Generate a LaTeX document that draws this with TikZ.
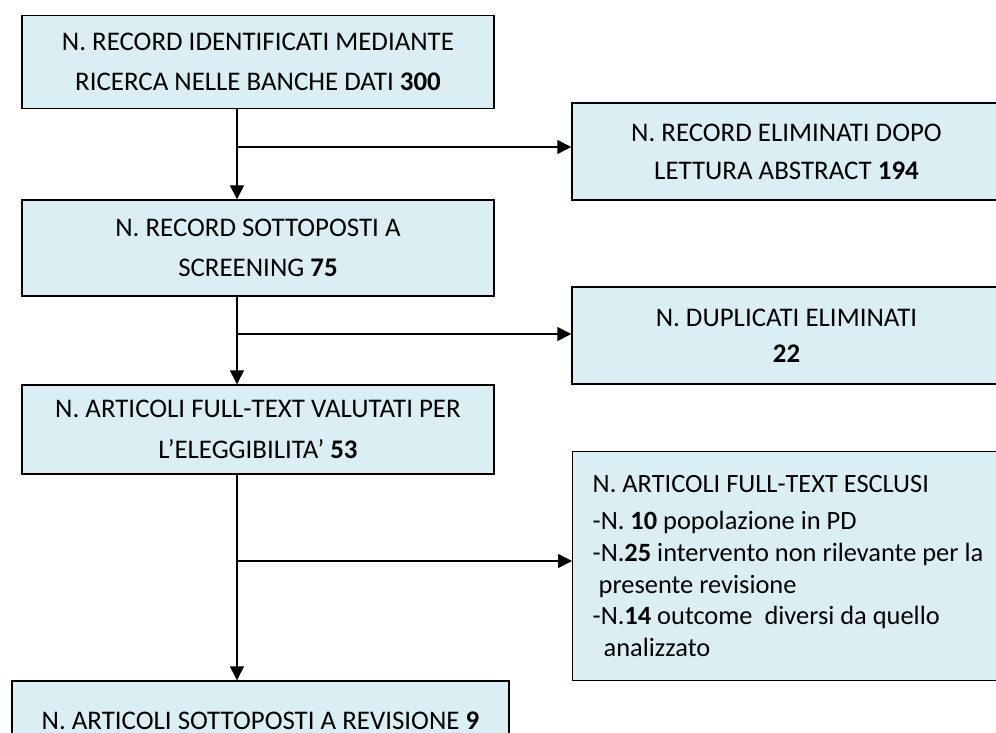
\documentclass[tikz,border=0pt]{standalone}
\usepackage{fontspec}
\setmainfont{Carlito}
\usetikzlibrary{arrows.meta}
\definecolor{boxfill}{RGB}{218,238,243}
\begin{document}
\begin{tikzpicture}[x=1bp,y=-1bp,
  box/.style={draw=black, line width=1.4bp, fill=boxfill, inner sep=0pt,
    font=\fontsize{27}{40.5}\selectfont, align=center},
  conn/.style={line width=1.4bp, -{Triangle[length=14bp,width=14bp]}},
  plain/.style={line width=1.4bp}]
\useasboundingbox (0,0) rectangle (996,733);
\clip (0,0) rectangle (996,733);
% main column
\node[box, minimum width=472bp, minimum height=93bp] (b1) at (258,62)
  {N. RECORD IDENTIFICATI MEDIANTE\\RICERCA NELLE BANCHE DATI \textbf{300}};
\node[box, minimum width=472bp, minimum height=96bp] (b2) at (258,248)
  {N. RECORD SOTTOPOSTI A\\SCREENING \textbf{75}};
\node[box, minimum width=472bp, minimum height=89bp] (b3) at (258,429.5)
  {N. ARTICOLI FULL-TEXT VALUTATI PER\\L’ELEGGIBILITA’ \textbf{53}};
\node[box, minimum width=497bp, minimum height=80bp] (b4) at (260.5,721)
  {N. ARTICOLI SOTTOPOSTI A REVISIONE \textbf{9}};
% side boxes
\node[box, font=\fontsize{27}{38}\selectfont, minimum width=429bp, minimum height=97bp] (r1) at (786.5,151.5)
  {N. RECORD ELIMINATI DOPO\\LETTURA ABSTRACT \textbf{194}};
\node[box, font=\fontsize{27}{36}\selectfont, minimum width=429bp, minimum height=97bp] (r2) at (786.5,335.5)
  {N. DUPLICATI ELIMINATI\\\textbf{22}};
\node[box, font=\fontsize{26.5}{32}\selectfont, align=flush left, text width=410bp, inner xsep=20bp,
  minimum height=229bp, anchor=north west] (r3) at (572,451)
  {N. ARTICOLI FULL-TEXT ESCLUSI\\[5bp]
   -N. \textbf{10} popolazione in PD\\
   -N.\textbf{25} intervento non rilevante per la\\
   \hspace*{6bp}presente revisione\\
   -N.\textbf{14} outcome\ \ diversi da quello\\
   \hspace*{11bp}analizzato};
% connectors
\coordinate (s1) at (237,147);
\coordinate (s2) at (237,334);
\coordinate (s3) at (237,561);
\draw[conn] (b1.south -| s1) -- (b2.north -| s1);
\draw[conn] (s1) -- (s1 -| r1.west);
\draw[conn] (b2.south -| s2) -- (b3.north -| s2);
\draw[conn] (s2) -- (s2 -| r2.west);
\draw[conn] (b3.south -| s3) -- (b4.north -| s3);
\draw[conn] (s3) -- (s3 -| r3.west);
\end{tikzpicture}
\end{document}
